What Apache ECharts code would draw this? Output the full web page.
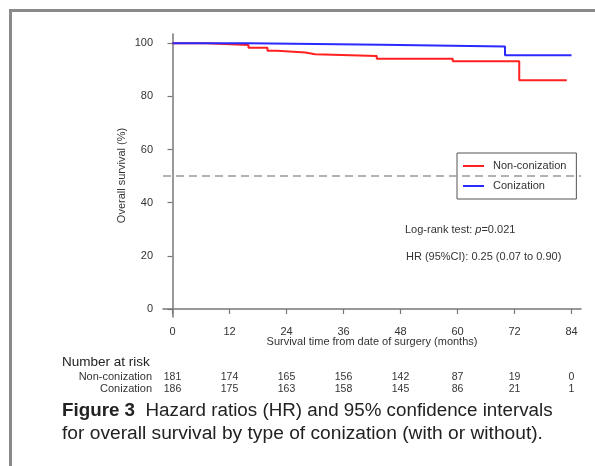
<!DOCTYPE html>
<html><head><meta charset="utf-8">
<script src="https://cdn.jsdelivr.net/npm/echarts@6/dist/echarts.min.js"></script>
<style>html,body{margin:0;padding:0;background:#fff}#c{width:595px;height:466px}</style>
</head><body><div id="c"></div>
<script>
// Axis ticks
const monthTicks = [0, 12, 24, 36, 48, 60, 72, 84];
const survTicks = [0, 20, 40, 60, 80, 100];
// Kaplan-Meier curves: month of each step and survival (%) after it
const nonConTime = [0, 7, 16, 20, 22, 28, 30, 43, 59, 73, 83];
const nonConSurv = [100, 99.4, 98.3, 97.2, 96.5, 95.9, 95.2, 94.2, 93.2, 86.1, 86.1];
const conTime = [0, 16, 44, 70, 84];
const conSurv = [100, 99.5, 98.8, 95.5, 95.5];
// Number at risk at each tick month
const riskNonCon = [181, 174, 165, 156, 142, 87, 19, 0];
const riskCon = [186, 175, 163, 158, 145, 86, 21, 1];
const refLevel = 50;

const FONT = '"Liberation Sans", Arial, Helvetica, sans-serif';
const TXT = '#333';
const pairs = (t, v) => t.map((x, i) => [x, v[i]]);
const riskAxis = (vals, offset) => ({
  type: 'value', min: -2, max: 86, position: 'bottom', offset: offset,
  axisLine: { show: false }, axisTick: { show: false }, splitLine: { show: false },
  axisLabel: {
    customValues: monthTicks, margin: 3, fontSize: 10.5, color: TXT, fontFamily: FONT,
    formatter: v => String(vals[monthTicks.indexOf(v)])
  }
});

const chart = echarts.init(document.getElementById('c'), null, { renderer: 'canvas' });
chart.setOption({
  animation: false,
  backgroundColor: '#fff',
  textStyle: { fontFamily: FONT },
  grid: { left: 163, right: 14, top: 34, bottom: 149, containLabel: false },
  legend: {
    left: 457, top: 153, orient: 'vertical',
    borderColor: '#555', borderWidth: 1, padding: [7, 10, 7, 6],
    itemGap: 8, itemWidth: 21, itemHeight: 2, icon: 'rect',
    textStyle: { fontSize: 11, color: TXT, fontFamily: FONT, lineHeight: 12, padding: [0, 0, 0, 4] },
    data: ['Non-conization', 'Conization']
  },
  xAxis: [
    {
      type: 'value', min: -2, max: 86,
      name: 'Survival time from date of surgery (months)',
      nameLocation: 'middle', nameGap: 19, nameMoveOverlap: false,
      nameTextStyle: { fontSize: 11, color: TXT, fontFamily: FONT },
      axisLine: { lineStyle: { color: '#777', width: 1.5 } },
      axisTick: { customValues: monthTicks, length: 5, lineStyle: { color: '#777', width: 1.2 } },
      axisLabel: { customValues: monthTicks, margin: 9, fontSize: 11, color: TXT, fontFamily: FONT },
      splitLine: { show: false }
    },
    riskAxis(riskNonCon, 52),
    riskAxis(riskCon, 64)
  ],
  yAxis: {
    type: 'value', min: -3, max: 103.5,
    name: 'Overall survival (%)', nameLocation: 'middle', nameGap: 36, nameRotate: 90,
    nameMoveOverlap: false,
    nameTextStyle: { fontSize: 11, color: TXT, fontFamily: FONT },
    axisLine: { show: true, lineStyle: { color: '#777', width: 1.5 } },
    axisTick: { show: true, customValues: survTicks, length: 5, lineStyle: { color: '#777', width: 1.2 } },
    axisLabel: { customValues: survTicks, margin: 10, fontSize: 11, color: TXT, fontFamily: FONT },
    splitLine: { show: false }
  },
  series: [
    {
      name: 'Non-conization', type: 'line', step: 'end', symbol: 'none',
      data: pairs(nonConTime, nonConSurv),
      itemStyle: { color: '#ff2020' }, lineStyle: { color: '#ff2020', width: 2 },
      markLine: {
        silent: true, symbol: 'none', label: { show: false },
        lineStyle: { color: '#999', type: [8, 5], width: 1.5 },
        data: [{ yAxis: refLevel }]
      }
    },
    {
      name: 'Conization', type: 'line', step: 'end', symbol: 'none',
      data: pairs(conTime, conSurv),
      itemStyle: { color: '#2a2aff' }, lineStyle: { color: '#2a2aff', width: 2 }
    }
  ],
  graphic: [
    { type: 'rect', shape: { x: 10.5, y: 10.5, width: 700, height: 600 },
      style: { fill: null, stroke: '#8a8a8a', lineWidth: 3 }, silent: true },
    { type: 'text', left: 405, top: 224,
      style: { text: '{n|Log-rank test: }{i|p}{n|=0.021}', fill: TXT,
        rich: { n: { fontSize: 11, fontFamily: FONT, fill: TXT },
                i: { fontSize: 11, fontFamily: FONT, fontStyle: 'italic', fill: TXT } } } },
    { type: 'text', left: 406, top: 251,
      style: { text: 'HR (95%CI): 0.25 (0.07 to 0.90)', fontSize: 11, fontFamily: FONT, fill: TXT } },
    { type: 'text', left: 62, top: 355,
      style: { text: 'Number at risk', fontSize: 13.5, fontFamily: FONT, fill: '#222' } },
    { type: 'text', x: 152, y: 377,
      style: { text: 'Non-conization', fontSize: 11, fontFamily: FONT, fill: TXT, align: 'right', verticalAlign: 'middle' } },
    { type: 'text', x: 152, y: 389,
      style: { text: 'Conization', fontSize: 11, fontFamily: FONT, fill: TXT, align: 'right', verticalAlign: 'middle' } },
    { type: 'text', x: 62, y: 411,
      style: { text: '{b|Figure 3}{n|  Hazard ratios (HR) and 95% confidence intervals}', verticalAlign: 'middle',
        rich: { b: { fontSize: 18.8, fontWeight: 'bold', fontFamily: FONT, fill: '#222' },
                n: { fontSize: 18.8, fontFamily: FONT, fill: '#222' } } } },
    { type: 'text', x: 62, y: 434,
      style: { text: 'for overall survival by type of conization (with or without).', fontSize: 19.2,
        fontFamily: FONT, fill: '#222', verticalAlign: 'middle' } }
  ]
});
</script>
</body></html>
